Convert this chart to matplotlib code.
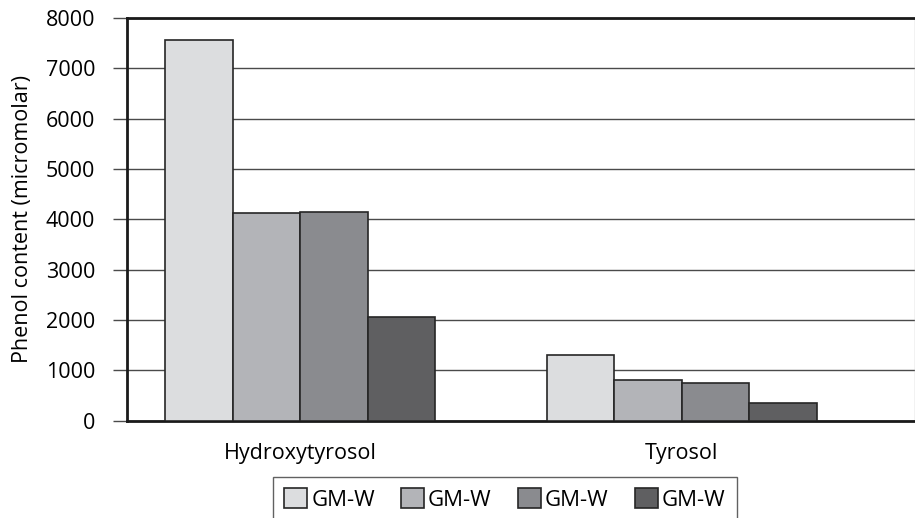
import matplotlib
matplotlib.use('Agg')
import matplotlib.pyplot as plt
import numpy as np

plt.rcParams.update({
    'font.family': ['Open Sans', 'DejaVu Sans'],
    'font.size': 15.5,
    'axes.linewidth': 2.0,
})

# -------- Data --------
categories = ['Hydroxytyrosol', 'Tyrosol']
series_labels = ['GM-W', 'GM-W', 'GM-W', 'GM-W']
series_values = [
    [7570, 1305],
    [4130, 800],
    [4150, 745],
    [2060, 350],
]
bar_colors = ['#dcdddf', '#b3b4b8', '#8a8b8f', '#5f5f61']
y_ticks = [0, 1000, 2000, 3000, 4000, 5000, 6000, 7000, 8000]

fig = plt.figure(figsize=(9.15, 5.18), dpi=100)
ax = fig.add_axes([0.1388, 0.1878, 0.8612, 0.7775])

x = np.arange(len(categories))
width = 0.177
offsets = (np.arange(len(series_values)) - 1.5) * width

for vals, off, col, lab in zip(series_values, offsets, bar_colors, series_labels):
    ax.bar(x + off, vals, width, color=col, edgecolor='#262626',
           linewidth=1.2, label=lab, zorder=3)

ax.set_xlim(-0.454, 1.612)
ax.set_ylim(0, 8000)
ax.set_yticks(y_ticks)
ax.set_xticks(x)
ax.set_xticklabels(categories)
ax.yaxis.grid(True, color='#4a4a4a', linewidth=1.0, zorder=0)
ax.set_axisbelow(True)

ax.tick_params(axis='y', length=10, width=1.0, color='#4a4a4a', pad=13)
ax.tick_params(axis='x', length=0, pad=16)
ax.set_ylabel('Phenol content (micromolar)', labelpad=9)

for side in ['left', 'bottom', 'top']:
    ax.spines[side].set_color('#1a1a1a')
ax.spines['right'].set_color('#c0c0c0')
ax.spines['right'].set_linewidth(1.0)

leg = fig.legend(loc='upper center', bbox_to_anchor=(0.552, 0.0792), ncol=4,
                 frameon=True, fancybox=False, edgecolor='#3a3a3a',
                 handlelength=1.0, handleheight=1.0, handletextpad=0.2,
                 columnspacing=1.2, borderpad=0.5, borderaxespad=0,
                 fontsize=16)
leg.get_frame().set_linewidth(1.0)

fig.savefig('out.png', dpi=100)
